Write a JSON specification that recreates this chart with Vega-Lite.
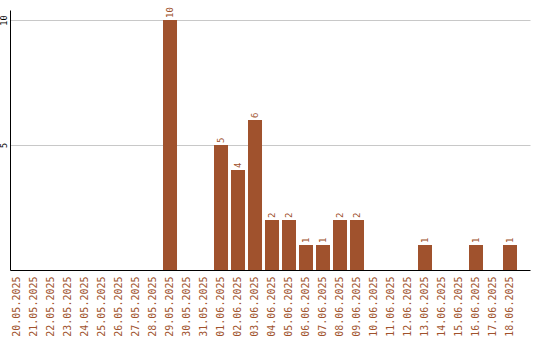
{
  "$schema": "https://vega.github.io/schema/vega-lite/v6.json",
  "autosize": "none",
  "padding": {"left": 10, "top": 10, "right": 10, "bottom": 70},
  "width": 520,
  "height": 260,
  "background": "white",
  "config": {"view": {"stroke": null}, "font": "DejaVu Sans Mono"},
  "data": {"values": [
    {"date": "20.05.2025", "v": 0},
    {"date": "21.05.2025", "v": 0},
    {"date": "22.05.2025", "v": 0},
    {"date": "23.05.2025", "v": 0},
    {"date": "24.05.2025", "v": 0},
    {"date": "25.05.2025", "v": 0},
    {"date": "26.05.2025", "v": 0},
    {"date": "27.05.2025", "v": 0},
    {"date": "28.05.2025", "v": 0},
    {"date": "29.05.2025", "v": 10},
    {"date": "30.05.2025", "v": 0},
    {"date": "31.05.2025", "v": 0},
    {"date": "01.06.2025", "v": 5},
    {"date": "02.06.2025", "v": 4},
    {"date": "03.06.2025", "v": 6},
    {"date": "04.06.2025", "v": 2},
    {"date": "05.06.2025", "v": 2},
    {"date": "06.06.2025", "v": 1},
    {"date": "07.06.2025", "v": 1},
    {"date": "08.06.2025", "v": 2},
    {"date": "09.06.2025", "v": 2},
    {"date": "10.06.2025", "v": 0},
    {"date": "11.06.2025", "v": 0},
    {"date": "12.06.2025", "v": 0},
    {"date": "13.06.2025", "v": 1},
    {"date": "14.06.2025", "v": 0},
    {"date": "15.06.2025", "v": 0},
    {"date": "16.06.2025", "v": 1},
    {"date": "17.06.2025", "v": 0},
    {"date": "18.06.2025", "v": 1}
  ]},
  "encoding": {
    "x": {
      "field": "date", "type": "ordinal", "sort": null,
      "scale": {"paddingInner": 0.176, "paddingOuter": 0.382, "align": 0},
      "axis": {
        "title": null, "labelAngle": -90, "labelAlign": "right", "labelBaseline": "middle",
        "labelColor": "#a0522d", "labelFont": "DejaVu Sans Mono", "labelFontSize": 10,
        "ticks": false, "labelPadding": 6, "domainColor": "black", "domainWidth": 1, "grid": false
      }
    },
    "y": {
      "field": "v", "type": "quantitative",
      "scale": {"domain": [0, 10.4], "nice": false, "zero": true},
      "axis": {
        "title": null, "values": [5, 10], "labelAngle": -90, "labelAlign": "center", "labelBaseline": "bottom",
        "labelColor": "black", "labelFont": "DejaVu Sans Mono", "labelFontSize": 8.5,
        "ticks": false, "labelPadding": 2, "domainColor": "black", "domainWidth": 1,
        "grid": true, "gridColor": "#c8c8c8", "gridWidth": 1
      }
    }
  },
  "layer": [
    {"mark": {"type": "bar", "color": "#a0522d"}},
    {
      "transform": [{"filter": "datum.v > 0"}],
      "mark": {"type": "text", "angle": 270, "align": "left", "baseline": "middle", "dx": 2, "color": "#a0522d", "font": "DejaVu Sans Mono", "fontSize": 9},
      "encoding": {"text": {"field": "v", "type": "quantitative"}}
    }
  ]
}
